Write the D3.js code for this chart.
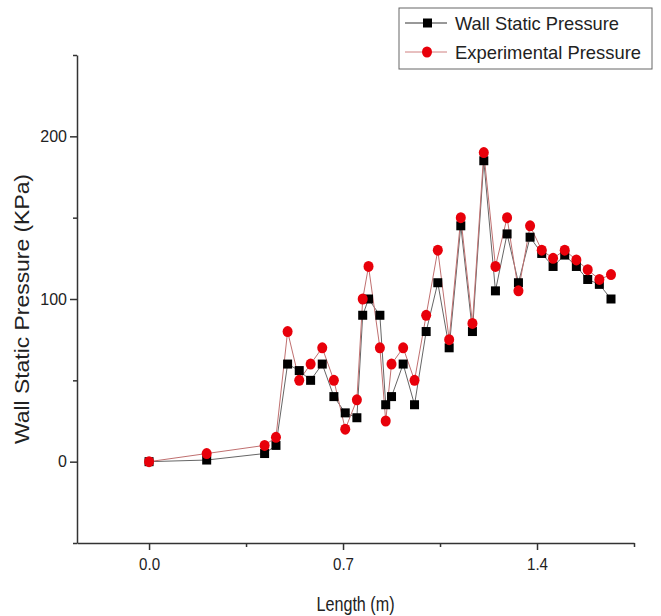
<!DOCTYPE html>
<html>
<head>
<meta charset="utf-8">
<script src="https://cdn.jsdelivr.net/npm/d3@7"></script>
<style>
  body { margin: 0; background: #fff; }
  text { font-family: "Liberation Sans", Arial, sans-serif; fill: #222; }
</style>
</head>
<body>
<div id="chart"></div>
<script>
// x positions along the duct (m)
const lengths = [0, 0.208, 0.417, 0.458, 0.5, 0.542, 0.583, 0.625, 0.667, 0.708, 0.75, 0.771,
  0.792, 0.833, 0.854, 0.875, 0.917, 0.958, 1.0, 1.042, 1.083, 1.125, 1.167, 1.208, 1.25,
  1.292, 1.333, 1.375, 1.417, 1.458, 1.5, 1.542, 1.583, 1.625, 1.667];

// Wall static pressure (KPa)
const wallPressure = [0, 1, 5, 10, 60, 56, 50, 60, 40, 30, 27, 90, 100, 90, 35, 40, 60, 35,
  80, 110, 70, 145, 80, 185, 105, 140, 110, 138, 128, 120, 127, 120, 112, 109, 100];

// Experimental pressure (KPa)
const expPressure = [0, 5, 10, 15, 80, 50, 60, 70, 50, 20, 38, 100, 120, 70, 25, 60, 70, 50,
  90, 130, 75, 150, 85, 190, 120, 150, 105, 145, 130, 125, 130, 124, 118, 112, 115];

const xMajor = [0, 0.7, 1.4];
const xMinor = [0.35, 1.05, 1.75];
const yMajor = [0, 100, 200];
const yMinor = [-50, 50, 150, 250];

const seriesNames = ["Wall Static Pressure", "Experimental Pressure"];

const width = 661;
const height = 616;

const svg = d3.select("#chart")
  .append("svg")
  .attr("width", width)
  .attr("height", height);

const x = d3.scaleLinear().domain([-0.26, 1.75]).range([77, 634]);
const y = d3.scaleLinear().domain([-50, 250]).range([543, 55]);

// axes
const axisColor = "#333";

const yAxis = svg.append("g")
  .attr("transform", `translate(${x.range()[0]},0)`)
  .call(d3.axisLeft(y).tickValues(yMajor).tickSize(7).tickSizeOuter(0).tickPadding(3));
svg.append("g")
  .attr("transform", `translate(${x.range()[0]},0)`)
  .call(d3.axisLeft(y).tickValues(yMinor).tickSize(4).tickFormat(""))
  .select(".domain").remove();

const xAxis = svg.append("g")
  .attr("transform", `translate(0,${y.range()[0]})`)
  .call(d3.axisBottom(x).tickValues(xMajor).tickSize(7).tickSizeOuter(0)
    .tickFormat(d3.format(".1f")).tickPadding(9));
svg.append("g")
  .attr("transform", `translate(0,${y.range()[0]})`)
  .call(d3.axisBottom(x).tickValues(xMinor).tickSize(4).tickFormat(""))
  .select(".domain").remove();

svg.selectAll(".domain, .tick line")
  .attr("stroke", axisColor)
  .attr("stroke-width", 1.5);

yAxis.selectAll("text").style("font-size", "16px").attr("fill", "#333");
xAxis.selectAll("text").style("font-size", "16px").attr("fill", "#333")
  .attr("textLength", 21).attr("lengthAdjust", "spacingAndGlyphs");

// axis titles
svg.append("text")
  .attr("transform", `translate(29,${(y(-50) + y(250)) / 2 + 10}) rotate(-90)`)
  .attr("text-anchor", "middle")
  .style("font-size", "21px")
  .attr("textLength", 270)
  .attr("lengthAdjust", "spacingAndGlyphs")
  .text("Wall Static Pressure (KPa)");

svg.append("text")
  .attr("x", (x(-0.26) + x(1.75)) / 2)
  .attr("y", 611)
  .attr("text-anchor", "middle")
  .style("font-size", "21px")
  .attr("textLength", 78)
  .attr("lengthAdjust", "spacingAndGlyphs")
  .text("Length (m)");

// lines
const wallData = lengths.map((d, i) => ({ x: d, y: wallPressure[i] }));
const expData = lengths.map((d, i) => ({ x: d, y: expPressure[i] }));

const line = d3.line().x(d => x(d.x)).y(d => y(d.y));

svg.append("path")
  .datum(wallData)
  .attr("d", line)
  .attr("fill", "none")
  .attr("stroke", "#666")
  .attr("stroke-width", 1);

svg.append("path")
  .datum(expData)
  .attr("d", line)
  .attr("fill", "none")
  .attr("stroke", "#c07070")
  .attr("stroke-width", 1);

// markers
svg.selectAll(".sq")
  .data(wallData)
  .enter()
  .append("rect")
  .attr("class", "sq")
  .attr("x", d => x(d.x) - 4.5)
  .attr("y", d => y(d.y) - 4.5)
  .attr("width", 9)
  .attr("height", 9)
  .attr("fill", "#000");

svg.selectAll(".dot")
  .data(expData)
  .enter()
  .append("ellipse")
  .attr("class", "dot")
  .attr("cx", d => x(d.x))
  .attr("cy", d => y(d.y))
  .attr("rx", 5)
  .attr("ry", 5.5)
  .attr("fill", "#e8000a");

// legend
const legend = svg.append("g");
legend.append("rect")
  .attr("x", 399)
  .attr("y", 8)
  .attr("width", 253)
  .attr("height", 61)
  .attr("fill", "#fff")
  .attr("stroke", "#666")
  .attr("stroke-width", 1);

const rows = legend.selectAll(".row")
  .data(seriesNames)
  .enter()
  .append("g")
  .attr("transform", (d, i) => `translate(0,${23 + i * 29})`);

rows.append("line")
  .attr("x1", 405).attr("x2", 447)
  .attr("stroke", (d, i) => i === 0 ? "#333" : "#d08080")
  .attr("stroke-width", 1);

rows.filter((d, i) => i === 0)
  .append("rect")
  .attr("x", 423).attr("y", -4.5)
  .attr("width", 9).attr("height", 9)
  .attr("fill", "#000");

rows.filter((d, i) => i === 1)
  .append("ellipse")
  .attr("cx", 427).attr("cy", 0)
  .attr("rx", 5).attr("ry", 5.5)
  .attr("fill", "#e8000a");

rows.append("text")
  .attr("x", 455)
  .attr("y", 7)
  .style("font-size", "19px")
  .attr("textLength", (d, i) => i === 0 ? 164 : 186)
  .attr("lengthAdjust", "spacingAndGlyphs")
  .text(d => d);
</script>
</body>
</html>
